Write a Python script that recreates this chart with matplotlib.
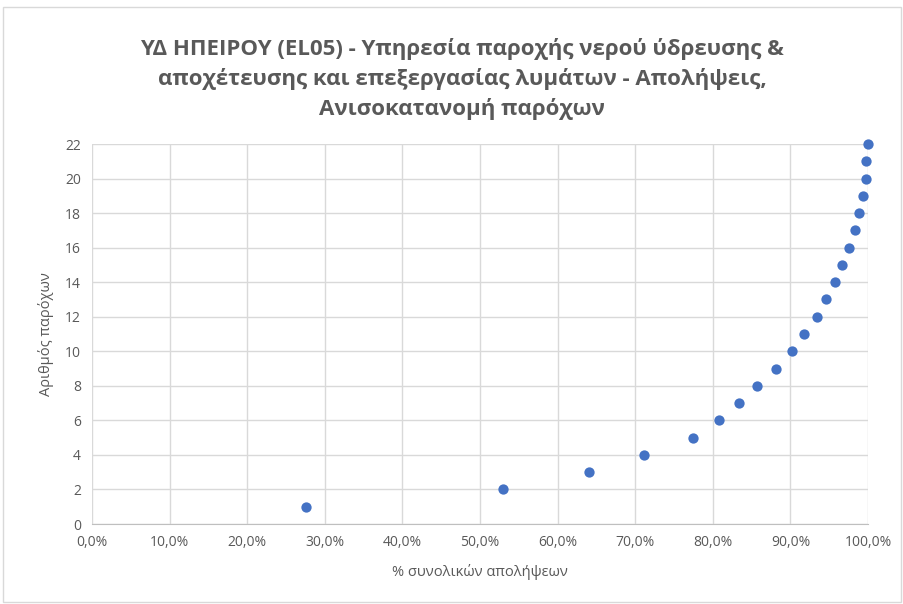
import matplotlib
matplotlib.use('Agg')
from matplotlib import pyplot as plt
from matplotlib.ticker import FuncFormatter, MultipleLocator
from matplotlib.patches import Rectangle

# share of total withdrawals (%) vs number of providers
share_pct = [27.6, 53.0, 64.0, 71.1, 77.4, 80.8, 83.4, 85.7, 88.1, 90.2, 91.8,
             93.4, 94.6, 95.7, 96.7, 97.5, 98.3, 98.8, 99.4, 99.7, 99.8, 100.0]
providers = list(range(1, 23))

title = ("ΥΔ ΗΠΕΙΡΟΥ (EL05) - Υπηρεσία παροχής νερού ύδρευσης &\n"
         "αποχέτευσης και επεξεργασίας λυμάτων - Απολήψεις,\n"
         "Ανισοκατανομή παρόχων")
xlabel = "% συνολικών απολήψεων"
ylabel = "Αριθμός παρόχων"

plt.rcParams['font.family'] = ['Open Sans', 'DejaVu Sans']
grey = '#595959'

fig = plt.figure(figsize=(9.04, 6.04), dpi=100)
fig.patches.append(Rectangle((0.003, 0.003), 0.994, 0.985, transform=fig.transFigure,
                             fill=False, edgecolor='#d9d9d9', linewidth=1))

ax = fig.add_axes([92 / 904, 1 - 524 / 604, 776 / 904, 380 / 604])
ax.scatter(share_pct, providers, s=55, color='#4472C4', zorder=3, linewidths=0,
           clip_on=False)

ax.set_xlim(0, 100)
ax.set_ylim(0, 22)
ax.xaxis.set_major_locator(MultipleLocator(10))
ax.yaxis.set_major_locator(MultipleLocator(2))
ax.xaxis.set_major_formatter(FuncFormatter(lambda v, p: f"{v:.1f}%".replace('.', ',')))
ax.grid(True, color='#d9d9d9', linewidth=1, zorder=0)
for s in ['top', 'right', 'left']:
    ax.spines[s].set_visible(False)
ax.spines['bottom'].set_color('#bfbfbf')
ax.tick_params(length=0, colors=grey, labelsize=10, pad=8)

ax.set_xlabel(xlabel, color=grey, fontsize=10.5, labelpad=10)
ax.set_ylabel(ylabel, color=grey, fontsize=10.5, labelpad=8)

fig.text(462 / 904, 1 - 79 / 604, title, ha='center', va='center', fontsize=16,
         fontweight='bold', color=grey, linespacing=1.5)

fig.savefig('out.png', dpi=100)
